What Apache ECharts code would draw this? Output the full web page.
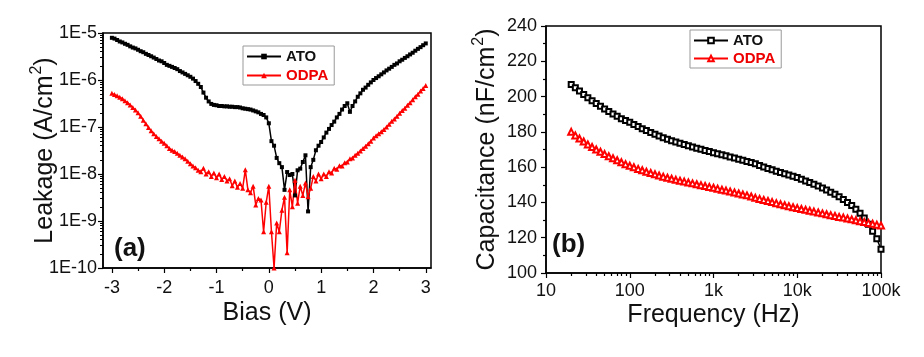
<!DOCTYPE html>
<html><head><meta charset="utf-8">
<script src="https://cdn.jsdelivr.net/npm/echarts@6/dist/echarts.min.js"></script>
<style>html,body{margin:0;padding:0;background:#fff}#c{width:924px;height:357px}</style>
</head><body><div id="c"></div>
<script>
// Panel (a): leakage vs bias
const bias = [-3,-2.95,-2.9,-2.85,-2.8,-2.75,-2.7,-2.65,-2.6,-2.55,-2.5,-2.45,-2.4,-2.35,-2.3,-2.25,-2.2,-2.15,-2.1,-2.05,
 -2,-1.95,-1.9,-1.85,-1.8,-1.75,-1.7,-1.65,-1.6,-1.55,-1.5,-1.45,-1.4,-1.35,-1.3,-1.25,-1.2,-1.15,-1.1,-1.05,
 -1,-0.95,-0.9,-0.85,-0.8,-0.75,-0.7,-0.65,-0.6,-0.55,-0.5,-0.45,-0.4,-0.35,-0.3,-0.25,-0.2,-0.15,-0.1,-0.05,
 0,0.05,0.1,0.15,0.2,0.25,0.3,0.35,0.4,0.45,0.5,0.55,0.6,0.65,0.7,0.75,0.8,0.85,0.9,0.95,1,
 1.05,1.1,1.15,1.2,1.25,1.3,1.35,1.4,1.45,1.5,1.55,1.6,1.65,1.7,1.75,1.8,1.85,1.9,1.95,2,
 2.05,2.1,2.15,2.2,2.25,2.3,2.35,2.4,2.45,2.5,2.55,2.6,2.65,2.7,2.75,2.8,2.85,2.9,2.95,3];
const leakATO = [7.9e-6,7.6e-6,7.1e-6,6.6e-6,6.3e-6,5.9e-6,5.6e-6,5.2e-6,4.9e-6,4.7e-6,
 4.4e-6,4.1e-6,3.9e-6,3.6e-6,3.4e-6,3.2e-6,3.0e-6,2.8e-6,2.6e-6,2.5e-6,
 2.3e-6,2.1e-6,2.0e-6,1.9e-6,1.8e-6,1.7e-6,1.55e-6,1.45e-6,1.35e-6,1.26e-6,
 1.17e-6,1.07e-6,9.5e-7,8.3e-7,7.1e-7,5.4e-7,4.2e-7,3.5e-7,3.1e-7,2.95e-7,
 2.9e-7,2.8e-7,2.8e-7,2.75e-7,2.75e-7,2.7e-7,2.7e-7,2.65e-7,2.65e-7,2.6e-7,
 2.5e-7,2.45e-7,2.4e-7,2.35e-7,2.25e-7,2.15e-7,2.05e-7,1.9e-7,1.8e-7,1.6e-7,
 1.2e-7,
 5.0e-8,4.0e-8,2.2e-8,1.7e-8,1.4e-8,4.6e-9,1.1e-8,9.5e-9,1.0e-8,3.5e-9,
 1.2e-8,1.3e-8,1.8e-8,2.5e-8,1.6e-9,1.4e-8,2.0e-8,3.2e-8,4.0e-8,4.8e-8,
 6.0e-8,7.6e-8,9.1e-8,1.1e-7,1.3e-7,1.6e-7,1.9e-7,2.35e-7,2.8e-7,3.2e-7,
 2.1e-7,2.8e-7,3.5e-7,4.4e-7,5.2e-7,6.2e-7,6.9e-7,7.9e-7,8.9e-7,1.0e-6,
 1.1e-6,1.2e-6,1.32e-6,1.45e-6,1.6e-6,1.74e-6,1.9e-6,2.1e-6,2.25e-6,2.5e-6,
 2.7e-6,2.95e-6,3.2e-6,3.5e-6,3.8e-6,4.2e-6,4.6e-6,5.0e-6,5.5e-6,6.0e-6];
const leakODPA = [5.2e-7,4.9e-7,4.6e-7,4.3e-7,4.0e-7,3.6e-7,3.3e-7,2.95e-7,2.6e-7,2.3e-7,
 2.0e-7,1.7e-7,1.4e-7,1.17e-7,9.8e-8,8.3e-8,7.2e-8,6.3e-8,5.6e-8,5.0e-8,
 4.5e-8,4.0e-8,3.5e-8,3.2e-8,3.0e-8,2.75e-8,2.5e-8,2.3e-8,2.1e-8,1.86e-8,
 1.66e-8,1.48e-8,1.35e-8,1.2e-8,1.12e-8,1.32e-8,1.0e-8,1.12e-8,8.9e-9,1.05e-8,
 8.3e-9,1.0e-8,7.6e-9,8.9e-9,7.1e-9,7.9e-9,5.6e-9,7.1e-9,5.2e-9,6.3e-9,
 5.0e-9,1.23e-8,4.6e-9,4.0e-9,5.5e-9,2.2e-9,3.0e-9,2.8e-9,5.9e-10,2.5e-9,
 5.5e-9,
 5.9e-10,1.0e-10,9.1e-10,5.9e-10,1.7e-9,3.2e-9,2.1e-10,4.6e-9,2.0e-9,7.4e-9,
 2.4e-9,5.5e-9,3.5e-9,6.4e-9,3.3e-9,5.0e-9,8.9e-9,7.1e-9,1.0e-8,7.9e-9,
 1.0e-8,8.9e-9,1.12e-8,1.05e-8,1.32e-8,1.26e-8,1.5e-8,1.48e-8,1.74e-8,1.8e-8,
 2.1e-8,2.2e-8,2.5e-8,2.75e-8,3.1e-8,3.5e-8,3.9e-8,4.4e-8,5.0e-8,5.8e-8,
 6.5e-8,7.2e-8,7.9e-8,8.9e-8,1.0e-7,1.15e-7,1.32e-7,1.48e-7,1.7e-7,1.95e-7,
 2.24e-7,2.5e-7,2.9e-7,3.3e-7,3.8e-7,4.4e-7,5.0e-7,5.8e-7,6.6e-7,7.6e-7];
const biasTicks = [-3,-2,-1,0,1,2,3];
const biasMinorTicks = [-2.5,-1.5,-0.5,0.5,1.5,2.5];
const leakTicks = [1e-10,1e-9,1e-8,1e-7,1e-6,1e-5];
const leakTickLabels = ['1E-10','1E-9','1E-8','1E-7','1E-6','1E-5'];

// Panel (b): capacitance vs frequency
const freq = [20,22.4,25.1,28.2,31.6,35.5,39.8,44.7,50.1,56.2,63.1,70.8,79.4,89.1,
 100,112,126,141,158,178,200,224,251,282,316,355,398,447,501,562,631,708,794,891,
 1000,1120,1260,1410,1580,1780,2000,2240,2510,2820,3160,3550,3980,4470,5010,5620,6310,7080,7940,8910,
 10000,11200,12600,14100,15800,17800,20000,22400,25100,28200,31600,35500,39800,44700,50100,56200,63100,70800,79400,89100,
 100000];
const capATO = [206.8,205.0,203.1,201.2,199.4,197.7,196.1,194.5,193.0,191.5,190.1,188.8,187.5,186.5,
 185.5,184.2,183.0,181.8,180.7,179.6,178.6,177.6,176.7,175.8,175.0,174.2,173.5,172.8,172.1,171.4,170.7,170.1,169.4,168.8,
 168.2,167.6,167.0,166.4,165.8,165.2,164.5,163.9,163.2,162.6,161.9,161.0,160.1,159.3,158.5,157.7,157.0,156.3,155.6,154.9,
 154.1,153.2,152.2,151.3,150.3,149.3,148.2,147.0,145.8,144.6,143.2,141.6,140.0,138.2,136.2,133.8,131.2,127.6,123.6,119.4,
 113.5];
const capODPA = [180.0,178.0,176.2,174.5,172.9,171.4,170.0,168.7,167.4,166.2,165.0,163.9,162.8,161.7,
 160.8,159.9,159.0,158.2,157.4,156.7,156.0,155.3,154.6,154.0,153.4,152.8,152.3,151.8,151.3,150.8,150.3,149.8,149.3,148.8,
 148.3,147.8,147.2,146.7,146.2,145.6,145.1,144.5,144.0,143.4,142.6,142.0,141.4,140.8,140.2,139.6,139.0,138.4,137.9,137.3,
 136.8,136.3,135.8,135.3,134.8,134.3,133.8,133.3,132.8,132.3,131.8,131.4,130.9,130.4,129.9,129.4,128.9,128.4,127.9,127.4,
 126.9];
const freqTicks = [10,100,1000,10000,100000];
const freqTickLabels = ['10','100','1k','10k','100k'];
const freqMinorTicks = [20,30,40,50,60,70,80,90,200,300,400,500,600,700,800,900,
 2000,3000,4000,5000,6000,7000,8000,9000,20000,30000,40000,50000,60000,70000,80000,90000];
const leakMinorTicks = [2e-10,3e-10,4e-10,5e-10,6e-10,7e-10,8e-10,9e-10,
 2e-9,3e-9,4e-9,5e-9,6e-9,7e-9,8e-9,9e-9, 2e-8,3e-8,4e-8,5e-8,6e-8,7e-8,8e-8,9e-8,
 2e-7,3e-7,4e-7,5e-7,6e-7,7e-7,8e-7,9e-7, 2e-6,3e-6,4e-6,5e-6,6e-6,7e-6,8e-6,9e-6];

const FONT = 'Liberation Sans, Arial, sans-serif';
const axisLineStyle = { color: '#000', width: 1.5 };
const nameStyle = { fontSize: 25, fontFamily: FONT, color: '#111',
  rich: { s: { fontSize: 16, fontFamily: FONT, color: '#111', verticalAlign: 'bottom', padding: [0, 0, 16, 1] } } };

const chart = echarts.init(document.getElementById('c'), null, { renderer: 'canvas' });
chart.setOption({
  animation: false,
  backgroundColor: '#fff',
  grid: [
    { left: 103, top: 33, width: 328, height: 235, show: true, borderColor: '#000', borderWidth: 1.5, backgroundColor: 'transparent' },
    { left: 546, top: 26, width: 335, height: 247, show: true, borderColor: '#000', borderWidth: 1.5, backgroundColor: 'transparent' }
  ],
  xAxis: [
    { gridIndex: 0, type: 'value', min: -3.17, max: 3.1, name: 'Bias (V)', nameLocation: 'middle', nameGap: 33, nameMoveOverlap: false,
      nameTextStyle: nameStyle,
      axisLine: { onZero: false, lineStyle: axisLineStyle }, splitLine: { show: false },
      axisTick: { customValues: biasTicks, length: 5, lineStyle: { color: '#000', width: 1.2 } },
      axisLabel: { customValues: biasTicks, margin: 11, fontSize: 18, fontFamily: FONT, color: '#111' } },
    { gridIndex: 0, type: 'value', min: -3.17, max: 3.1, position: 'bottom',
      axisLine: { show: false, onZero: false }, splitLine: { show: false }, axisLabel: { show: false },
      axisTick: { customValues: biasMinorTicks, length: 3, lineStyle: { color: '#000', width: 1.2 } } },
    { gridIndex: 1, type: 'log', logBase: 10, min: 10, max: 100000, name: 'Frequency (Hz)', nameLocation: 'middle', nameGap: 30, nameMoveOverlap: false,
      nameTextStyle: nameStyle,
      axisLine: { onZero: false, lineStyle: axisLineStyle }, splitLine: { show: false },
      axisTick: { customValues: freqTicks, length: 5, lineStyle: { color: '#000', width: 1.2 } },
      axisLabel: { customValues: freqTicks, margin: 9, fontSize: 18, fontFamily: FONT, color: '#111',
        formatter: v => freqTickLabels[freqTicks.findIndex(t => Math.abs(t - v) / t < 1e-6)] } },
    { gridIndex: 1, type: 'log', logBase: 10, min: 10, max: 100000, position: 'bottom',
      axisLine: { show: false, onZero: false }, splitLine: { show: false }, axisLabel: { show: false },
      axisTick: { customValues: freqMinorTicks, length: 3, lineStyle: { color: '#000', width: 1.2 } } }
  ],
  yAxis: [
    { gridIndex: 0, type: 'log', logBase: 10, min: 1e-10, max: 1e-5, name: 'Leakage (A/cm{s|2})', nameLocation: 'middle', nameGap: 42, nameMoveOverlap: false,
      nameTextStyle: nameStyle,
      axisLine: { onZero: false, lineStyle: axisLineStyle }, splitLine: { show: false },
      axisTick: { customValues: leakTicks, length: 5, lineStyle: { color: '#000', width: 1.2 } },
      axisLabel: { customValues: leakTicks, margin: 6, fontSize: 18, fontFamily: FONT, color: '#111',
        formatter: v => leakTickLabels[leakTicks.findIndex(t => Math.abs(t - v) / t < 1e-6)] } },
    { gridIndex: 0, type: 'log', logBase: 10, min: 1e-10, max: 1e-5, position: 'left',
      axisLine: { show: false, onZero: false }, splitLine: { show: false }, axisLabel: { show: false },
      axisTick: { customValues: leakMinorTicks, length: 3, lineStyle: { color: '#000', width: 1 } } },
    { gridIndex: 1, type: 'value', min: 100, max: 240, interval: 20, name: 'Capacitance (nF/cm{s|2})', nameLocation: 'middle', nameGap: 43, nameMoveOverlap: false,
      nameTextStyle: nameStyle,
      axisLine: { onZero: false, lineStyle: axisLineStyle }, splitLine: { show: false },
      axisTick: { length: 5, lineStyle: { color: '#000', width: 1.2 } },
      minorTick: { show: true, splitNumber: 2, length: 3, lineStyle: { color: '#000', width: 1.2 } },
      axisLabel: { margin: 9, fontSize: 18, fontFamily: FONT, color: '#111' } }
  ],
  legend: [
    { left: 243, top: 46, orient: 'vertical', itemWidth: 34, itemHeight: 7, itemGap: 4,
      borderColor: '#999', borderWidth: 1, padding: [3, 6, 2, 3],
      textStyle: { fontSize: 15, fontWeight: 'bold', fontFamily: FONT },
      data: [ { name: 'ATO', textStyle: { color: '#111' } }, { name: 'ODPA', textStyle: { color: '#e00' } } ] },
    { left: 690, top: 30, orient: 'vertical', itemWidth: 34, itemHeight: 7, itemGap: 3,
      borderColor: '#999', borderWidth: 1, padding: [3, 6, 2, 3],
      textStyle: { fontSize: 15, fontWeight: 'bold', fontFamily: FONT },
      formatter: n => n.replace('-b', ''),
      data: [ { name: 'ATO-b', textStyle: { color: '#111' } }, { name: 'ODPA-b', textStyle: { color: '#e00' } } ] }
  ],
  series: [
    { name: 'ATO', type: 'line', xAxisIndex: 0, yAxisIndex: 0, data: bias.map((b, i) => [b, leakATO[i]]),
      symbol: 'rect', symbolSize: 4, lineStyle: { color: '#000', width: 1.5 }, itemStyle: { color: '#000' } },
    { name: 'ODPA', type: 'line', xAxisIndex: 0, yAxisIndex: 0, data: bias.map((b, i) => [b, leakODPA[i]]),
      symbol: 'triangle', symbolSize: 5, lineStyle: { color: '#f00', width: 1.5 }, itemStyle: { color: '#f00' } },
    { name: 'ATO-b', type: 'line', xAxisIndex: 2, yAxisIndex: 2, data: freq.map((f, i) => [f, capATO[i]]),
      symbol: 'emptyRect', symbolSize: 5, lineStyle: { color: '#000', width: 1.5 }, itemStyle: { color: '#000', borderWidth: 1 } },
    { name: 'ODPA-b', type: 'line', xAxisIndex: 2, yAxisIndex: 2, data: freq.map((f, i) => [f, capODPA[i]]),
      symbol: 'emptyTriangle', symbolSize: 6, lineStyle: { color: '#f00', width: 1.5 }, itemStyle: { color: '#f00', borderWidth: 1 } }
  ],
  graphic: [
    { type: 'text', left: 114, top: 236, style: { text: '(a)', font: 'bold 26px ' + FONT, fill: '#111' } },
    { type: 'text', left: 552, top: 232, style: { text: '(b)', font: 'bold 26px ' + FONT, fill: '#111' } }
  ]
});
</script></body></html>
